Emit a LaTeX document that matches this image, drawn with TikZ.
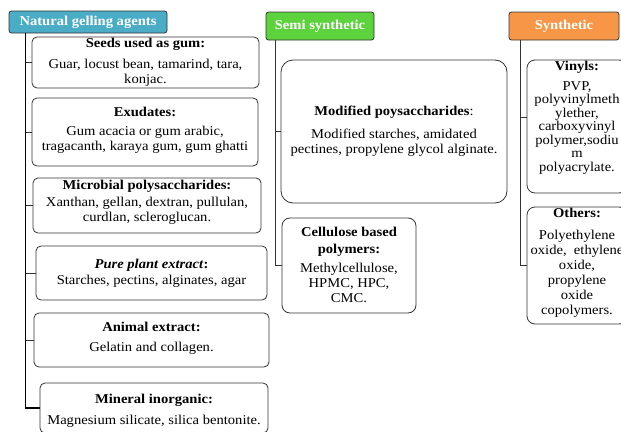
\documentclass[tikz,border=0pt]{standalone}
\usepackage{fontspec}
\setmainfont{Liberation Serif}[FakeStretch=1.08]
\definecolor{natblue}{HTML}{4BACC6}
\definecolor{semigreen}{HTML}{5CD23C}
\definecolor{synorange}{HTML}{F79646}
\tikzset{
  hdr/.style={draw=black!80, rounded corners=2.5pt, line width=0.8pt, text=white,
    font=\bfseries\fontsize{13.5}{15}\selectfont, inner sep=0pt},
  gbox/.style={draw=black!80, line width=0.8pt, rounded corners=5pt, inner sep=0pt},
  txt/.style={align=center, font=\fontsize{13.5}{15}\selectfont, inner sep=0pt},
  trunk/.style={line width=1.3pt, draw=black},
  twig/.style={line width=0.7pt, draw=black!80},
}
\begin{document}
\begin{tikzpicture}[x=1pt,y=-1pt]
\useasboundingbox (0,0) rectangle (621,431);
\clip (0,0) rectangle (621,431);
% headers
\node[hdr, fill=natblue, minimum width=158pt, minimum height=22pt] (nat) at (88,22) {Natural gelling agents};
\node[hdr, fill=semigreen, minimum width=108pt, minimum height=28pt] (semi) at (320,26) {Semi synthetic};
\node[hdr, fill=synorange, minimum width=110pt, minimum height=28pt] (syn) at (564,26) {Synthetic};
% natural boxes
\node[gbox, minimum width=227pt, minimum height=51pt] (b1) at (145.5,62.5) {};
\node[gbox, minimum width=226pt, minimum height=68pt] (b2) at (145,132) {};
\node[gbox, minimum width=228pt, minimum height=55pt] (b3) at (147,205.5) {};
\node[gbox, minimum width=231pt, minimum height=54pt] (b4) at (151.5,273) {};
\node[gbox, minimum width=235pt, minimum height=54pt] (b5) at (151.5,340) {};
\node[gbox, minimum width=228pt, minimum height=50pt] (b6) at (154,408) {};
% semi boxes
\node[gbox, rounded corners=12pt, minimum width=226pt, minimum height=143pt] (mod) at (394,131.5) {};
\node[gbox, rounded corners=8pt, minimum width=134pt, minimum height=95pt] (cel) at (349,265.5) {};
% synthetic boxes
\node[gbox, rounded corners=8pt, minimum width=100pt, minimum height=133pt] (vin) at (577,126.5) {};
\node[gbox, rounded corners=8pt, minimum width=100pt, minimum height=117pt] (oth) at (577,265.5) {};
% texts
\node[txt] (t1) at (145.5,62) {\textbf{Seeds used as gum:}\\[6pt]Guar, locust bean, tamarind, tara,\\konjac.};
\node[txt] (t2) at (145,130.5) {\textbf{Exudates:}\\[4pt]Gum acacia or gum arabic,\\tragacanth, karaya gum, gum ghatti};
\node[txt] (t3) at (147,202) {\textbf{Microbial polysaccharides:}\\[2pt]Xanthan, gellan, dextran, pullulan,\\curdlan, scleroglucan.};
\node[txt] (t4) at (151.5,273) {\textbf{\textit{Pure plant extract}:}\\[1pt]Starches, pectins, alginates, agar};
\node[txt] (t5) at (151.5,338) {\textbf{Animal extract:}\\[5pt]Gelatin and collagen.};
\node[txt] (t6) at (154,410.5) {\textbf{Mineral inorganic:}\\[6pt]Magnesium silicate, silica bentonite.};
\node[txt] (t7) at (394,131) {\textbf{Modified poysaccharides}:\\[8pt]Modified starches, amidated\\pectines, propylene glycol alginate.};
\node[txt] (t8) at (349,265) {\textbf{Cellulose based}\\[2pt]\textbf{polymers:}\\[4pt]Methylcellulose,\\HPMC, HPC,\\CMC.};
\node[txt, font=\fontsize{13.5}{13.5}\selectfont] (t9) at (577,118) {\textbf{Vinyls:}\\[6pt]PVP,\\polyvinylmeth\\ylether,\\carboxyvinyl\\polymer,sodiu\\m\\polyacrylate.};
\node[txt] (t10) at (577,263) {\textbf{Others:}\\[7pt]Polyethylene\\oxide,\ \ ethylene\\oxide,\\propylene\\oxide\\copolymers.};
% connectors
\coordinate (nroot) at ([xshift=17pt]nat.south west);
\draw[trunk] (nroot) |- (b6.west);
\foreach \b in {b1,b2,b3,b4,b5} \draw[twig] (nroot |- \b.west) -- (\b.west);
\coordinate (sroot) at ([xshift=10pt]semi.south west);
\draw[twig] (sroot) |- (cel.west);
\draw[twig] (sroot |- mod.west) -- (mod.west);
\coordinate (yroot) at ([xshift=12pt]syn.south west);
\coordinate (vb) at ([yshift=9.5pt]vin.west);
\draw[twig] (yroot) |- (oth.west);
\draw[twig] (yroot |- vb) -- (vb);
\end{tikzpicture}
\end{document}
